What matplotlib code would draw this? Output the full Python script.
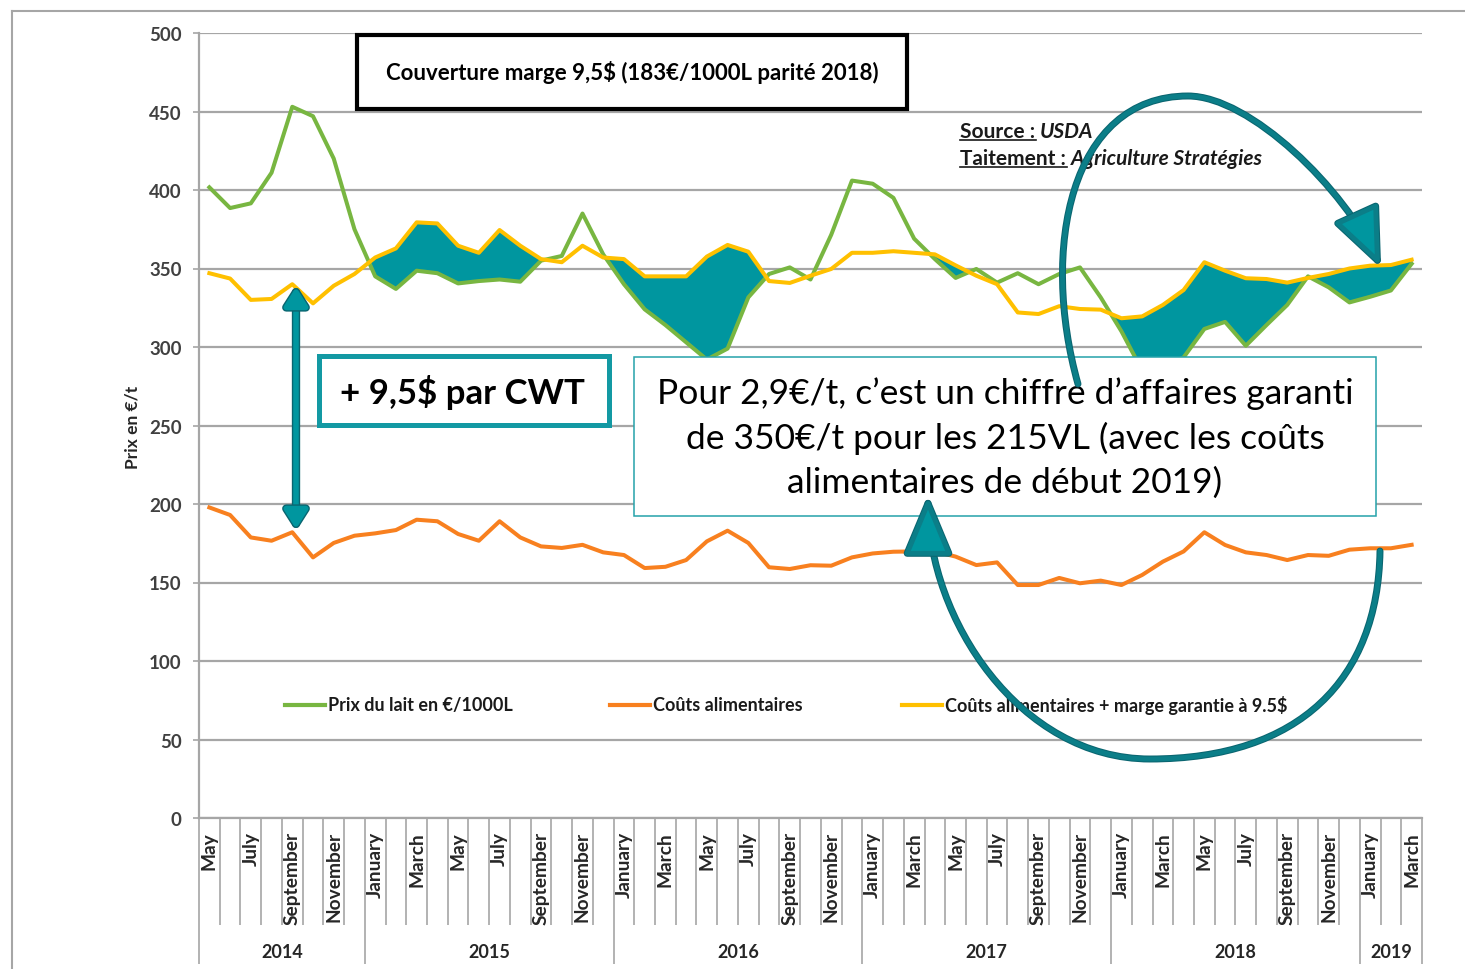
import numpy as np
import matplotlib
matplotlib.use('Agg')
import matplotlib.pyplot as plt
import matplotlib.transforms as mtransforms
import matplotlib.patheffects as pe
from matplotlib.patches import Rectangle, FancyArrowPatch
from matplotlib.path import Path
from matplotlib.lines import Line2D

plt.rcParams['font.family'] = ['Lato', 'DejaVu Sans']

# --- data (May 2014 -> March 2019, monthly) ---
month_names = ['January', 'February', 'March', 'April', 'May', 'June', 'July',
               'August', 'September', 'October', 'November', 'December']
start_month = 4  # May
years = ['2014', '2015', '2016', '2017', '2018', '2019']
year_months = [8, 12, 12, 12, 12, 3]

prix_lait = [401.7, 388.5, 391.5, 411, 453, 447, 420, 375, 345, 337,
             348.6, 347, 340.5, 342, 343, 341.6, 355, 358, 385, 359,
             340, 324, 314, 303, 292, 299, 331.6, 346.5, 350.7, 343,
             371.5, 406, 404, 395, 369, 356, 344, 349.7, 341, 347,
             340, 346.5, 350.7, 331.6, 310, 285, 288, 293.4, 311.5, 316,
             300.8, 314, 326.8, 345, 338, 328.4, 332, 336, 353]
couts = [197.8, 193, 178.7, 176.6, 182, 166, 175.2, 179.8, 181.3, 183.4,
         190, 189, 180.9, 176.6, 189, 178.7, 173, 172, 174, 169.2,
         167.5, 159.2, 160, 164.3, 176.2, 183, 175.2, 159.7, 158.6, 161,
         160.7, 166, 168.5, 169.6, 169.8, 169.8, 166.5, 161.1, 162.8, 148.4,
         148.4, 152.9, 149.5, 151.2, 148.4, 154.8, 163.3, 169.8, 182, 173.9,
         169.2, 167.5, 164.3, 167.5, 167, 170.9, 171.8, 171.8, 174]
couts_marge = [347, 343.6, 330, 330.6, 340, 327.8, 339, 346.5, 357, 362.8,
               379.4, 378.7, 364.5, 360, 374.5, 364.5, 356, 354, 364.5, 357,
               356, 345, 345, 345, 357.6, 365, 360.7, 342, 340.8, 345.4,
               349.7, 360, 360, 361, 360, 359, 352, 345.4, 340, 322,
               321, 326, 324.2, 323.8, 318.3, 319.5, 326.8, 336.3, 354, 348.6,
               343.8, 343.3, 341, 344, 346.5, 350, 351.8, 352.2, 355.6]

labels_legend = ['Prix du lait en €/1000L', 'Coûts alimentaires',
                 'Coûts alimentaires + marge garantie à 9.5$']

green = '#78b641'
orange = '#f8801f'
yellow = '#ffc000'
teal = '#00969f'
teal_dark = '#0a6570'
gridc = '#a6a6a6'

W, H = 1465, 970


def fx(x):
    return x / W


def fy(y):
    return 1 - y / H


fig = plt.figure(figsize=(W / 100, H / 100), dpi=100)
ax = fig.add_axes([fx(199), fy(819), (1422 - 199) / W, (819 - 34) / H])

lait = np.array(prix_lait)
marge = np.array(couts_marge)
x = np.arange(len(lait))

ax.fill_between(x, marge, lait, where=marge >= lait, interpolate=True,
                facecolor=teal, edgecolor=teal_dark, lw=1.2, zorder=2)
ax.plot(x, lait, color=green, lw=2.9, zorder=3)
ax.plot(x, couts, color=orange, lw=2.9, zorder=3)
ax.plot(x, marge, color=yellow, lw=2.9, zorder=3)

n = len(x)
ax.set_xlim(-0.5, n - 0.5)
ax.set_ylim(0, 500)
ax.set_yticks(range(0, 501, 50))
ax.yaxis.grid(True, color=gridc, lw=1.6)
ax.set_axisbelow(True)
for s in ['top', 'right']:
    ax.spines[s].set_visible(False)
for s in ['left', 'bottom']:
    ax.spines[s].set_color(gridc)
    ax.spines[s].set_linewidth(1.6)
ax.tick_params(axis='y', length=4.5, width=1.2, color=gridc, pad=8,
               labelsize=13.5, labelcolor='#404040')
for lbl in ax.get_yticklabels():
    lbl.set_fontweight('bold')

# category axis: month separators + year separators
bounds = np.concatenate([[0], np.cumsum(year_months)]) - 0.5
ax.set_xticks(bounds)
ax.set_xticks(np.arange(n + 1) - 0.5, minor=True)
ax.tick_params(axis='x', which='major', length=105, width=1.2, color=gridc,
               labelbottom=False)
ax.tick_params(axis='x', which='minor', length=77, width=1.2, color=gridc)

trans = mtransforms.blended_transform_factory(ax.transData, ax.transAxes)
for i in range(0, n, 2):
    ax.text(i, -13 / 785, month_names[(start_month + i) % 12], rotation=90,
            ha='center', va='top', transform=trans, fontsize=13.8,
            fontweight='bold', color='#262626')
for k, yr in enumerate(years):
    ax.text((bounds[k] + bounds[k + 1]) / 2, -(953 - 819) / 785, yr,
            ha='center', va='center', transform=trans, fontsize=13,
            fontweight='bold', color='#262626')

fig.text(fx(132), fy(427), 'Prix en €/t', rotation=90, ha='center',
         va='center', fontsize=12.5, fontweight='bold', color='#262626')

# outer frame
fig.add_artist(Line2D([fx(12), fx(12)], [fy(12), 0], color=gridc, lw=1.5))
fig.add_artist(Line2D([fx(12), 1], [fy(12), fy(12)], color=gridc, lw=1.5))

# legend
for lab, col, x0 in zip(labels_legend, [green, orange, yellow], [285, 610, 902]):
    fig.add_artist(Line2D([fx(x0), fx(x0 + 40)], [fy(706), fy(706)],
                          color=col, lw=3, zorder=4))
    fig.text(fx(x0 + 43), fy(706), lab, va='center', ha='left',
             fontsize=13, fontweight='bold', color='#1a1a1a', zorder=4)

# title box
fig.add_artist(Rectangle((fx(357), fy(110)), (907 - 357) / W, (110 - 36) / H,
                         transform=fig.transFigure, facecolor='white',
                         edgecolor='black', lw=3, zorder=5))
fig.text(fx(632), fy(73), 'Couverture marge 9,5$ (183€/1000L parité 2018)',
         ha='center', va='center', fontsize=16, fontweight='bold', zorder=6)

# "+ 9,5$ par CWT" box
fig.add_artist(Rectangle((fx(319), fy(426)), (609 - 319) / W, (426 - 357) / H,
                         transform=fig.transFigure, facecolor='white',
                         edgecolor='#1399a3', lw=3.6, zorder=5))
fig.text(fx(462), fy(392), '+ 9,5$ par CWT', ha='center', va='center',
         fontsize=25, fontweight='bold', zorder=6)

# explanation box
fig.add_artist(Rectangle((fx(634), fy(517)), (1376 - 634) / W, (517 - 358) / H,
                         transform=fig.transFigure, facecolor='white',
                         edgecolor='#25a2aa', lw=1.1, zorder=5))
fig.text(fx(1005), fy(438),
         'Pour 2,9€/t, c’est un chiffre d’affaires garanti\n'
         'de 350€/t pour les 215VL (avec les coûts\n'
         'alimentaires de début 2019)',
         ha='center', va='center', multialignment='center', fontsize=25.5,
         linespacing=1.43, zorder=6)

# double arrow
stroke = [pe.Stroke(linewidth=6, foreground=teal_dark), pe.Normal()]
fig.add_artist(FancyArrowPatch((fx(296), fy(288)), (fx(296), fy(530)),
                               arrowstyle='<|-|>,head_length=11,head_width=7',
                               mutation_scale=1, shrinkA=0, shrinkB=0,
                               transform=fig.transFigure, color=teal, lw=4,
                               path_effects=stroke, zorder=7))

# curved arrows
codes = [Path.MOVETO] + [Path.CURVE4] * 6
for pts in ([(1078, 385), (1040, 250), (1070, 97), (1188, 97),
             (1250, 97), (1345, 190), (1380, 267)],
            [(1380, 552), (1378, 680), (1300, 760), (1150, 760),
             (1020, 760), (928, 620), (928, 498)]):
    path = Path([(fx(a), fy(b)) for a, b in pts], codes)
    fig.add_artist(FancyArrowPatch(path=path,
                                   arrowstyle='-|>,head_length=36,head_width=15',
                                   mutation_scale=1, transform=fig.transFigure,
                                   facecolor=teal, edgecolor='#0b7e88', lw=3.5,
                                   path_effects=[pe.Stroke(linewidth=5, foreground=teal_dark),
                                                 pe.Normal()],
                                   zorder=7))

# source lines (bold + underline, then bold italic)
fig.canvas.draw()
renderer = fig.canvas.get_renderer()
for yy, head, tail in [(132, 'Source : ', 'USDA'),
                       (159, 'Taitement : ', 'Agriculture Stratégies')]:
    t1 = fig.text(fx(960), fy(yy), head, ha='left', va='center', fontsize=15,
                  fontweight='bold', color='#1a1a1a', zorder=4)
    bb = t1.get_window_extent(renderer)
    fig.text(bb.x1 / W, fy(yy), tail, ha='left', va='center', fontsize=15,
             fontweight='bold', style='italic', color='#1a1a1a', zorder=4)
    yl = (bb.y0 + 1.5) / H
    fig.add_artist(Line2D([bb.x0 / W, (bb.x1 - 4) / W], [yl, yl],
                          color='#1a1a1a', lw=1.2, zorder=4))

fig.savefig('out.png', dpi=100)
